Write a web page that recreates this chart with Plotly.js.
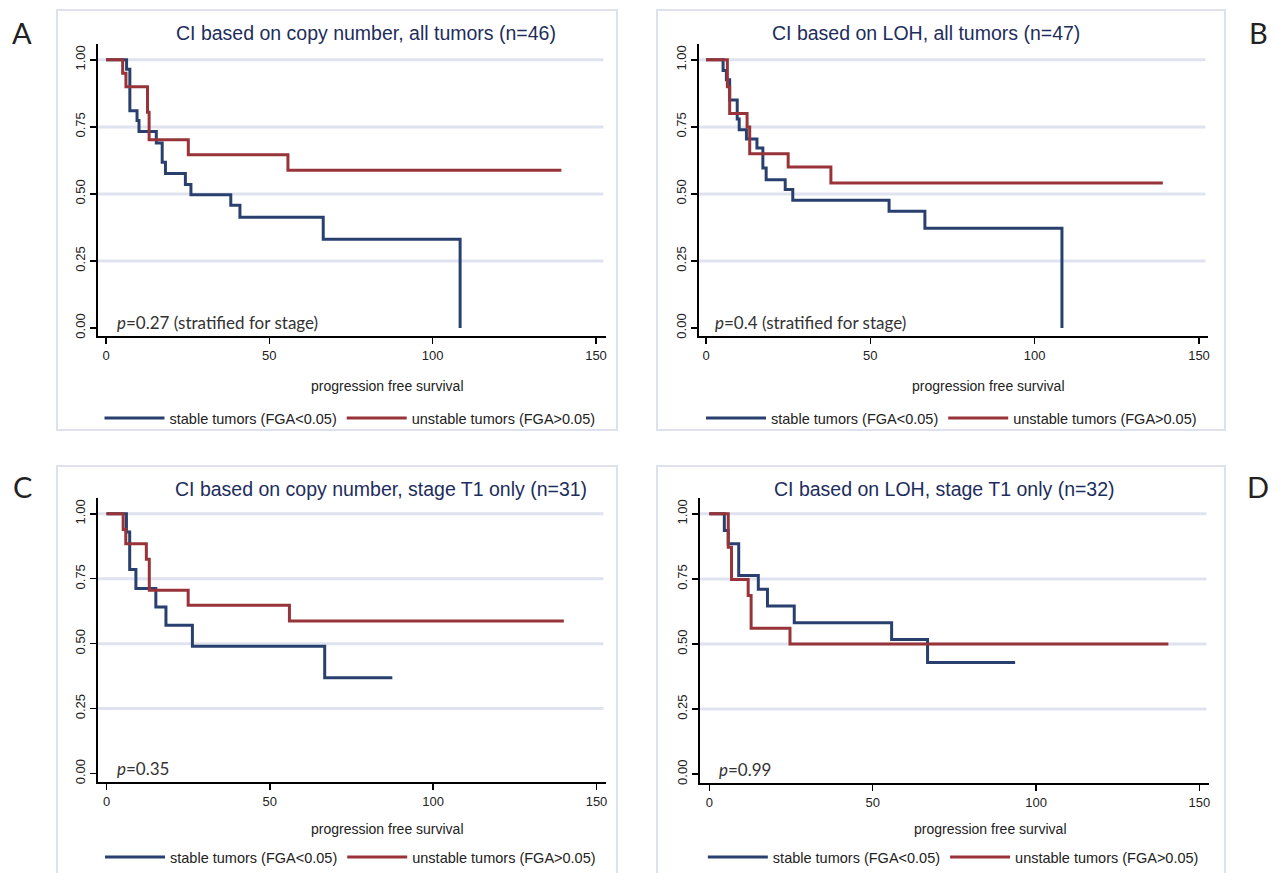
<!DOCTYPE html>
<html>
<head>
<meta charset="utf-8">
<script src="https://cdn.plot.ly/plotly-3.0.1.min.js"></script>
<style>html,body{margin:0;padding:0;background:#fff;}#chart{width:1280px;height:873px;}</style>
</head>
<body>
<div id="chart"></div>
<script>
// ---------- data ----------
const seriesNames = ['stable tumors (FGA<0.05)', 'unstable tumors (FGA>0.05)'];
const panelTitles = [
  'CI based on copy number, all tumors (n=46)',
  'CI based on LOH, all tumors (n=47)',
  'CI based on copy number, stage T1 only (n=31)',
  'CI based on LOH, stage T1 only (n=32)'
];
const panelLetters = ['A', 'B', 'C', 'D'];
const pTexts = ['<i>p</i>=0.27 (stratified for stage)', '<i>p</i>=0.4 (stratified for stage)', '<i>p</i>=0.35', '<i>p</i>=0.99'];
const xTitle = 'progression free survival';
const xTickVals = [0, 50, 100, 150];
const yTickVals = [0, 0.25, 0.5, 0.75, 1];
const yTickText = ['0.00', '0.25', '0.50', '0.75', '1.00'];
const gridVals = [0.25, 0.5, 0.75, 1];

// Panel A
const timeA_stable = [0, 6.3, 7.3, 9.5, 10.1, 15.4, 17.2, 18.2, 24.3, 26.0, 38.2, 41.0, 66.5, 108.4];
const survA_stable = [1, 0.965, 0.81, 0.774, 0.733, 0.69, 0.618, 0.576, 0.535, 0.497, 0.458, 0.413, 0.331, 0];
const timeA_unstable = [0, 5.1, 6.1, 12.7, 13.2, 25.2, 55.7, 139.4];
const survA_unstable = [1, 0.95, 0.90, 0.805, 0.702, 0.646, 0.588, 0.588];
// Panel B
const timeB_stable = [0, 5.2, 6.2, 7.2, 9.5, 10.1, 12.3, 15.5, 17.3, 18.3, 24.1, 26.4, 55.7, 66.6, 108.3];
const survB_stable = [1, 0.96, 0.926, 0.85, 0.779, 0.739, 0.705, 0.671, 0.597, 0.553, 0.516, 0.476, 0.435, 0.372, 0];
const timeB_unstable = [0, 6.5, 7.2, 12.5, 13.3, 25.0, 38.0, 139.0];
const survB_unstable = [1, 0.90, 0.80, 0.75, 0.65, 0.60, 0.541, 0.541];
// Panel C
const timeC_stable = [0, 6.1, 7.1, 9.0, 15.1, 18.2, 26.3, 66.8, 87.5];
const survC_stable = [1, 0.93, 0.786, 0.712, 0.641, 0.571, 0.49, 0.369, 0.369];
const timeC_unstable = [0, 5.1, 5.9, 12.2, 13.1, 25.0, 56.0, 140.0];
const survC_unstable = [1, 0.94, 0.885, 0.825, 0.706, 0.648, 0.587, 0.587];
// Panel D
const timeD_stable = [0, 4.6, 5.8, 9.0, 15.0, 17.8, 26.0, 55.8, 66.8, 93.6];
const survD_stable = [1, 0.936, 0.885, 0.763, 0.71, 0.646, 0.582, 0.517, 0.429, 0.429];
const timeD_unstable = [0, 5.8, 6.8, 11.9, 12.8, 24.7, 140.5];
const survD_unstable = [1, 0.872, 0.748, 0.686, 0.561, 0.50, 0.50];

// ---------- styling / layout helpers ----------
const W = 1280, H = 873;
const fx = p => p / W;
const fy = p => 1 - p / H;
const BLUE = '#29406f', RED = '#983439', GRID = '#dfe3ef', BOX = '#dde2ee';
const TXT = 'Liberation Sans, Arial, sans-serif';
const HUM = 'Lato, Open Sans, sans-serif';

// pixel geometry of each panel: axis extents, x=0 and x=150 positions, y=1 and y=0 positions
const geo = [
  {l: 98, r: 606, t: 44, b: 337, x0: 106.0, x150: 596.0, y1: 60, y0: 328.7, box: [57, 10, 617, 431], letter: [22, 33], title: [174, 33], p: [115, 323], xt: 387, lg: 419},
  {l: 699, r: 1208, t: 44, b: 337, x0: 706.0, x150: 1199.0, y1: 60, y0: 328.7, box: [657, 10, 1225, 431], letter: [1258, 33], title: [770, 33], p: [713, 323], xt: 387, lg: 419},
  {l: 98, r: 606, t: 499, b: 784, x0: 106.5, x150: 596.5, y1: 515, y0: 775.3, box: [57, 467, 617, 880], letter: [22, 488], title: [173, 490], p: [115, 770], xt: 831, lg: 859},
  {l: 700, r: 1209, t: 499, b: 785, x0: 709.3, x150: 1199.4, y1: 515, y0: 776, box: [657, 467, 1225, 880], letter: [1258, 488], title: [772, 490], p: [717, 771], xt: 831, lg: 859}
];

const series = [
  [[timeA_stable, survA_stable], [timeA_unstable, survA_unstable]],
  [[timeB_stable, survB_stable], [timeB_unstable, survB_unstable]],
  [[timeC_stable, survC_stable], [timeC_unstable, survC_unstable]],
  [[timeD_stable, survD_stable], [timeD_unstable, survD_unstable]]
];

const data = [];
const layout = {
  width: W, height: H,
  margin: {l: 0, r: 0, t: 0, b: 0},
  paper_bgcolor: '#fff', plot_bgcolor: '#fff',
  font: {family: TXT, color: '#222'},
  shapes: [], annotations: []
};

geo.forEach((g, i) => {
  const n = i === 0 ? '' : String(i + 1);
  const xa = 'xaxis' + n, ya = 'yaxis' + n;
  const xr = 'x' + n, yr = 'y' + n;
  const xs = (g.x150 - g.x0) / 150;
  const ys = (g.y0 - g.y1);
  layout[xa] = {
    domain: [fx(g.l), fx(g.r)], anchor: yr,
    range: [(g.l - g.x0) / xs, (g.r - g.x0) / xs],
    tickvals: xTickVals, ticks: 'outside', ticklen: 6, tickwidth: 1.5, tickcolor: '#000',
    showline: true, linecolor: '#000', linewidth: 2, showgrid: false, zeroline: false,
    tickfont: {family: TXT, size: 13, color: '#222'}, fixedrange: true
  };
  layout[ya] = {
    domain: [fy(g.b), fy(g.t)], anchor: xr,
    range: [-(g.b - g.y0) / ys, 1 + (g.y1 - g.t) / ys],
    tickvals: yTickVals, ticktext: yTickText, tickangle: -90,
    ticks: 'outside', ticklen: 6, tickwidth: 1.5, tickcolor: '#000',
    showline: true, linecolor: '#000', linewidth: 2, showgrid: false, zeroline: false,
    tickfont: {family: TXT, size: 13, color: '#222'}, fixedrange: true
  };
  const lgName = i === 0 ? 'legend' : 'legend' + (i + 1);
  layout[lgName] = {
    orientation: 'h', x: fx((g.x0 + g.x150) / 2 - 1), xanchor: 'center',
    y: fy(g.lg), yanchor: 'middle', itemwidth: 60,
    font: {family: TXT, size: 14.5, color: '#222'}, bgcolor: 'rgba(0,0,0,0)',
    traceorder: 'normal', itemclick: false, itemdoubleclick: false
  };
  series[i].forEach((s, k) => {
    data.push({
      x: s[0], y: s[1], type: 'scatter', mode: 'lines',
      line: {shape: 'hv', width: 3, color: k === 0 ? BLUE : RED},
      name: seriesNames[k], xaxis: xr, yaxis: yr, legend: lgName,
      hoverinfo: 'skip'
    });
  });
  gridVals.forEach(v => {
    layout.shapes.push({type: 'line', xref: xr + ' domain', yref: yr, x0: 0, x1: 0.995, y0: v, y1: v,
      line: {color: GRID, width: 3}, layer: 'below'});
  });
  layout.shapes.push({type: 'rect', xref: 'paper', yref: 'paper',
    x0: fx(g.box[0]), y0: fy(g.box[1]), x1: fx(g.box[2]), y1: fy(g.box[3]),
    line: {color: BOX, width: 2}, fillcolor: 'rgba(0,0,0,0)', layer: 'below'});
  layout.annotations.push({text: panelLetters[i], xref: 'paper', yref: 'paper',
    x: fx(g.letter[0]), y: fy(g.letter[1]), xanchor: 'center', yanchor: 'middle', showarrow: false,
    font: {family: HUM, size: 29, color: '#222'}});
  layout.annotations.push({text: panelTitles[i], xref: 'paper', yref: 'paper',
    x: fx(g.title[0]), y: fy(g.title[1]), xanchor: 'left', yanchor: 'middle', showarrow: false,
    font: {family: TXT, size: 19.5, color: '#1d2d5c'}});
  layout.annotations.push({text: pTexts[i], xref: 'paper', yref: 'paper',
    x: fx(g.p[0]), y: fy(g.p[1]), xanchor: 'left', yanchor: 'middle', showarrow: false,
    font: {family: HUM, size: 17, color: '#333'}});
  layout.annotations.push({text: xTitle, xref: 'paper', yref: 'paper',
    x: fx(g.x0 + 86.1 * xs), y: fy(g.xt), xanchor: 'center', yanchor: 'middle', showarrow: false,
    font: {family: TXT, size: 14, color: '#222'}});
});

Plotly.newPlot('chart', data, layout, {displayModeBar: false, staticPlot: true});
</script>
</body>
</html>
